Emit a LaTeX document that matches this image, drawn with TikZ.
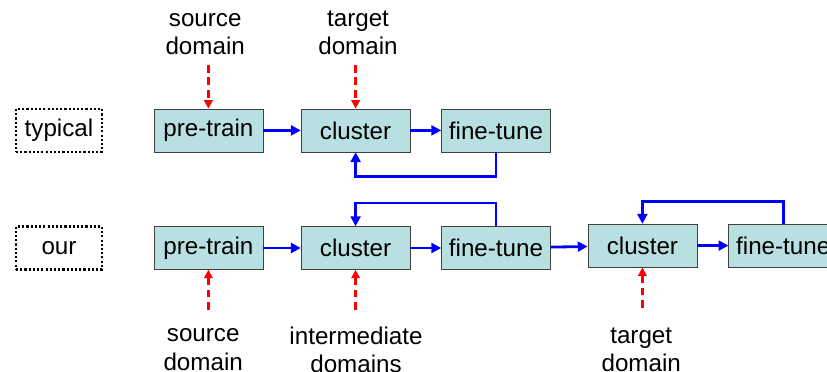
\documentclass[tikz,border=0pt]{standalone}
\usepackage{fontspec}
\setmainfont{Liberation Sans}
\usetikzlibrary{arrows.meta}
\definecolor{boxfill}{RGB}{184,223,226}
\tikzset{
  stage/.style={draw=black!75,fill=boxfill,minimum width=2.725cm,minimum height=1.075cm,inner sep=0pt},
  tag/.style={draw,line width=1.7pt,dash pattern=on 1.5pt off 1.5pt,minimum width=2.15cm,minimum height=1.075cm,inner sep=0pt},
  flow/.style={blue,line width=2pt,-{Triangle[length=7pt,width=7pt]}},
  data/.style={red,line width=1.8pt,dash pattern=on 5.5pt off 3.5pt,-{Triangle[length=6pt,width=6pt]}},
  lbl/.style={align=center,inner sep=0pt}
}
\begin{document}
\begin{tikzpicture}[font=\fontsize{17.2}{20}\selectfont]
    \useasboundingbox (0,0) rectangle (20.675,-9.3);
    % typical row
    \node[tag] (typ) at (1.475,-3.26) {typical};
    \node[stage] (pre1) at (5.21,-3.26) {pre-train};
    \node[stage] (cl1) at (8.89,-3.26) {cluster};
    \node[stage] (ft1) at (12.4,-3.26) {fine-tune};
    \node[lbl] (src1) at (5.13,-0.85) {source\\domain};
    \node[lbl] (tgt1) at (8.95,-0.82) {target\\domain};
    \coordinate (s1) at (5.21,-1.62);
    \coordinate (t1) at (8.89,-1.62);
    \draw[data] (s1) -- (pre1.north);
    \draw[data] (t1) -- (cl1.north);
    \draw[flow] (pre1) -- (cl1);
    \draw[flow] (cl1) -- (ft1);
    \draw[flow] (ft1.south) -- ++(0,-0.6) -| (cl1.south);
    % our row
    \node[tag] (our) at (1.475,-6.2) {our};
    \node[stage] (pre2) at (5.21,-6.2) {pre-train};
    \node[stage] (cl2) at (8.89,-6.2) {cluster};
    \node[stage] (ft2) at (12.4,-6.2) {fine-tune};
    \node[stage] (cl3) at (16.06,-6.14) {cluster};
    \node[stage] (ft3) at (19.58,-6.14) {fine-tune};
    \node[lbl] (src2) at (5.08,-8.74) {source\\domain};
    \node[lbl] (mid2) at (8.9,-8.74) {intermediate\\domains};
    \node[lbl] (tgt2) at (16.03,-8.74) {target\\domain};
    \coordinate (s2) at (5.21,-7.75);
    \coordinate (m2) at (8.89,-7.75);
    \coordinate (t2) at (16.06,-7.7);
    \draw[data] (s2) -- (pre2.south);
    \draw[data] (m2) -- (cl2.south);
    \draw[data] (t2) -- (cl3.south);
    \draw[flow] (pre2) -- (cl2);
    \draw[flow] (cl2) -- (ft2);
    \draw[flow] (ft2) -- (cl3);
    \draw[flow] (cl3) -- (ft3);
    \draw[flow] (ft2.north) -- ++(0,0.58) -| (cl2.north);
    \draw[flow] (ft3.north) -- ++(0,0.55) -| (cl3.north);
\end{tikzpicture}
\end{document}
